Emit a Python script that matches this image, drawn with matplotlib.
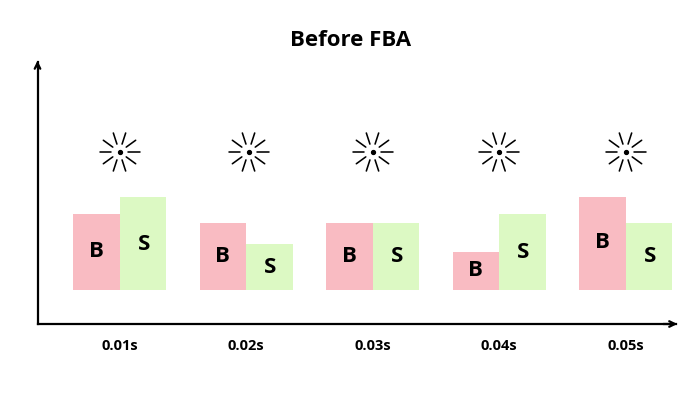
import numpy as np
import matplotlib.pyplot as plt

plt.rcParams['font.family'] = ['Open Sans', 'DejaVu Sans']

times = ['0.01s', '0.02s', '0.03s', '0.04s', '0.05s']
buy = [76, 67, 67, 38, 93]
sell = [93, 46, 67, 76, 67]


def sun_icon(ax, cx, cy, unit):
    # 10 short rays and a dot, unit = pixels per x step
    for ang in np.arange(0, 360, 36):
        a = np.radians(ang)
        ax.plot([cx + 8.3 * np.cos(a) / unit, cx + 20 * np.cos(a) / unit],
                [cy + 8.3 * np.sin(a), cy + 20 * np.sin(a)],
                color='black', lw=1.15, solid_capstyle='round', clip_on=False)
    ax.plot([cx], [cy], 'o', color='black', ms=2.8, clip_on=False)


fig = plt.figure(figsize=(7, 3.94), dpi=100)
W, H = 700, 394
left, right, top, bottom = 37.5, 676, 62, 324
ax = fig.add_axes([left / W, 1 - bottom / H, (right - left) / W, (bottom - top) / H])

step = 126.5
ax.set_xlim((left - 119.5) / step, (right - 119.5) / step)
ax.set_ylim(-34, 228)

x = np.arange(len(times))
w = 46.5 / step
ax.bar(x - w / 2, buy, w, color='#F9BBC2')
ax.bar(x + w / 2, sell, w, color='#DCF9C3')

for i in x:
    ax.text(i - w / 2, buy[i] / 2 + 0.5, 'B', ha='center', va='center',
            fontsize=16, fontweight='bold')
    ax.text(i + w / 2 + 0.01, sell[i] / 2 - 0.5, 'S', ha='center', va='center',
            fontsize=16, fontweight='bold')
    sun_icon(ax, i + (0.02 if i == 1 else 0), 138, step)

for s in ['top', 'right']:
    ax.spines[s].set_visible(False)
for s in ['left', 'bottom']:
    ax.spines[s].set_linewidth(1.6)

ax.annotate('', xy=(0, 1.005), xytext=(0, 0.98), xycoords='axes fraction',
            arrowprops=dict(arrowstyle='->', lw=1.6, color='black', shrinkA=0, shrinkB=0))
ax.annotate('', xy=(1.002, 0), xytext=(0.98, 0), xycoords='axes fraction',
            arrowprops=dict(arrowstyle='->', lw=1.6, color='black', shrinkA=0, shrinkB=0))

ax.set_yticks([])
ax.set_xticks(x)
ax.set_xticklabels(times, fontsize=10.5, fontweight='bold')
ax.tick_params(axis='x', length=0, pad=11)

fig.text(350.5 / W, 1 - 40 / H, 'Before FBA', ha='center', va='center',
         fontsize=16, fontweight='bold')

fig.savefig('out.png', dpi=100)
